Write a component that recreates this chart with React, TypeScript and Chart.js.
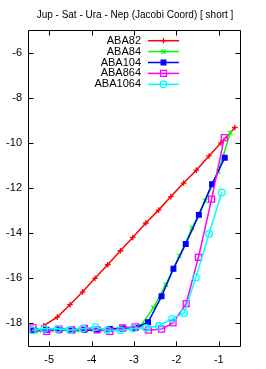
import React, { useEffect, useRef } from 'react';
import { Chart, registerables } from 'chart.js';
import { drawPoint } from 'chart.js/helpers';

Chart.register(...registerables);

const TITLE = 'Jup - Sat - Ura - Nep (Jacobi Coord) [ short ]';
const SERIES_NAMES = ['ABA82', 'ABA84', 'ABA104', 'ABA864', 'ABA1064'];
const COLORS = ['#ff0000', '#00ff00', '#0000ff', '#ff00ff', '#00ffff'];
const X_TICKS = [-5, -4, -3, -2, -1];
const Y_TICKS = [-18, -16, -14, -12, -10, -8, -6];
const X_MIN = -5.5;
const X_MAX = -0.5;
const Y_MIN = -19;
const Y_MAX = -5;

const aba82X = [-5.13, -4.81, -4.51, -4.21, -3.92, -3.62, -3.32, -3.03, -2.72, -2.42, -2.13, -1.83, -1.53, -1.23, -0.95, -0.62];
const aba82Y = [-18.1, -17.72, -17.17, -16.6, -16.0, -15.4, -14.78, -14.19, -13.55, -12.98, -12.38, -11.78, -11.21, -10.58, -10.0, -9.32];

const aba84X = [-5.24, -4.94, -4.64, -4.34, -4.04, -3.74, -3.44, -3.14, -2.84, -2.54, -2.25, -1.93, -1.63, -1.32, -1.01, -0.73];
const aba84Y = [-18.32, -18.3, -18.27, -18.3, -18.26, -18.28, -18.25, -18.22, -18.1, -17.3, -16.28, -15.0, -13.77, -12.57, -11.27, -9.56];

const aba104X = [-5.37, -5.07, -4.77, -4.47, -4.17, -3.87, -3.57, -3.27, -2.97, -2.67, -2.35, -2.07, -1.78, -1.47, -1.16, -0.86];
const aba104Y = [-18.3, -18.28, -18.3, -18.27, -18.28, -18.3, -18.25, -18.22, -18.2, -17.95, -16.8, -15.58, -14.48, -13.19, -11.83, -10.66];

const aba864X = [-5.38, -5.06, -4.77, -4.47, -4.17, -3.87, -3.57, -3.27, -2.97, -2.66, -2.35, -2.08, -1.77, -1.48, -1.17, -0.87];
const aba864Y = [-18.2, -18.35, -18.25, -18.3, -18.22, -18.28, -18.35, -18.2, -18.15, -18.3, -18.25, -17.98, -17.12, -15.07, -12.49, -9.77];

const aba1064X = [-5.4, -5.12, -4.8, -4.51, -4.21, -3.91, -3.63, -3.32, -3.02, -2.71, -2.41, -2.1, -1.82, -1.54, -1.23, -0.93];
const aba1064Y = [-18.3, -18.24, -18.24, -18.3, -18.23, -18.17, -18.3, -18.3, -18.23, -18.2, -18.1, -17.8, -17.54, -15.96, -14.03, -12.2];

const SERIES_X = [aba82X, aba84X, aba104X, aba864X, aba1064X];
const SERIES_Y = [aba82Y, aba84Y, aba104Y, aba864Y, aba1064Y];
const POINT_STYLES = ['cross', 'crossRot', 'rect', 'rect', 'circle'];
const POINT_RADII = [2.8, 3, 3.3, 4.2, 3.3];
const POINT_FILLS = ['#ff0000', '#00ff00', '#0000ff', 'rgba(0,0,0,0)', 'rgba(0,0,0,0)'];

const FONT = '"Liberation Sans", Arial, sans-serif';

const framePlugin = {
  id: 'gnuFrame',
  afterDatasetsDraw(chart: any) {
    const { ctx, chartArea } = chart;
    const { left, right, top, bottom } = chartArea;
    const xs = chart.scales.x;
    const ys = chart.scales.y;
    ctx.save();
    ctx.strokeStyle = '#000';
    ctx.lineWidth = 1;
    ctx.beginPath();
    const L = Math.round(left) + 0.5;
    const R = Math.round(right) + 0.5;
    const T = Math.round(top) + 0.5;
    const B = Math.round(bottom) + 0.5;
    ctx.rect(L, T, R - L, B - T);
    const tl = 5;
    X_TICKS.forEach((v) => {
      const px = Math.round(xs.getPixelForValue(v)) + 0.5;
      ctx.moveTo(px, B);
      ctx.lineTo(px, B - tl);
      ctx.moveTo(px, T);
      ctx.lineTo(px, T + tl);
    });
    Y_TICKS.forEach((v) => {
      const py = Math.round(ys.getPixelForValue(v)) + 0.5;
      ctx.moveTo(L, py);
      ctx.lineTo(L + tl, py);
      ctx.moveTo(R, py);
      ctx.lineTo(R - tl, py);
    });
    ctx.stroke();

    // title
    ctx.fillStyle = '#000';
    ctx.font = '10px ' + FONT;
    ctx.textAlign = 'center';
    ctx.textBaseline = 'middle';
    ctx.fillText(TITLE, 135, 15);

    // legend
    ctx.font = '11px ' + FONT;
    ctx.textAlign = 'right';
    const textRight = 141;
    const lineStart = 148;
    const lineEnd = 179;
    const rowTop = 40.7;
    const rowStep = 10.9;
    SERIES_NAMES.forEach((name, i) => {
      const y = rowTop + i * rowStep;
      ctx.fillStyle = '#000';
      ctx.fillText(name, textRight, y);
      ctx.strokeStyle = COLORS[i];
      ctx.lineWidth = 1.5;
      ctx.beginPath();
      ctx.moveTo(lineStart, y);
      ctx.lineTo(lineEnd, y);
      ctx.stroke();
      ctx.fillStyle = POINT_FILLS[i];
      ctx.lineWidth = 1.3;
      drawPoint(ctx, { pointStyle: POINT_STYLES[i], radius: POINT_RADII[i], rotation: 0, borderWidth: 1.3 }, (lineStart + lineEnd) / 2, y);
    });
    ctx.restore();
  },
};

export default function App() {
  const canvasRef = useRef<HTMLCanvasElement>(null);

  useEffect(() => {
    if (!canvasRef.current) return;
    const datasets = SERIES_NAMES.map((name, i) => ({
      label: name,
      data: SERIES_X[i].map((x, k) => ({ x, y: SERIES_Y[i][k] })),
      borderColor: COLORS[i],
      backgroundColor: POINT_FILLS[i],
      pointBorderColor: COLORS[i],
      pointBackgroundColor: POINT_FILLS[i],
      borderWidth: 1.5,
      pointStyle: POINT_STYLES[i],
      pointRadius: POINT_RADII[i],
      pointBorderWidth: 1.3,
      tension: 0,
      order: SERIES_NAMES.length - i,
      clip: false as any,
    }));
    const chart = new Chart(canvasRef.current, {
      type: 'line',
      data: { datasets },
      options: {
        animation: false,
        responsive: true,
        maintainAspectRatio: false,
        layout: { padding: { top: 30, right: 26, left: 0, bottom: 0 } },
        plugins: {
          legend: { display: false },
          title: { display: false },
          tooltip: { enabled: false },
        },
        scales: {
          x: {
            type: 'linear',
            min: X_MIN,
            max: X_MAX,
            grid: { display: false, drawTicks: false },
            border: { display: false },
            afterBuildTicks: (scale: any) => {
              scale.ticks = X_TICKS.map((v) => ({ value: v }));
            },
            afterFit: (scale: any) => {
              scale.height = 23;
            },
            ticks: {
              padding: 7,
              color: '#000',
              font: { family: FONT, size: 11 },
              maxRotation: 0,
              callback: (v: any) => String(v),
            },
          },
          y: {
            type: 'linear',
            min: Y_MIN,
            max: Y_MAX,
            grid: { display: false, drawTicks: false },
            border: { display: false },
            afterBuildTicks: (scale: any) => {
              scale.ticks = Y_TICKS.map((v) => ({ value: v }));
            },
            afterFit: (scale: any) => {
              scale.width = 28;
            },
            ticks: {
              padding: 6,
              color: '#000',
              font: { family: FONT, size: 11 },
              callback: (v: any) => String(v),
            },
          },
        },
      },
      plugins: [framePlugin],
    });
    return () => chart.destroy();
  }, []);

  return (
    <div style={{ position: 'absolute', left: 0, top: 0, width: 266, height: 369, background: '#fff' }}>
      <canvas ref={canvasRef} />
    </div>
  );
}
